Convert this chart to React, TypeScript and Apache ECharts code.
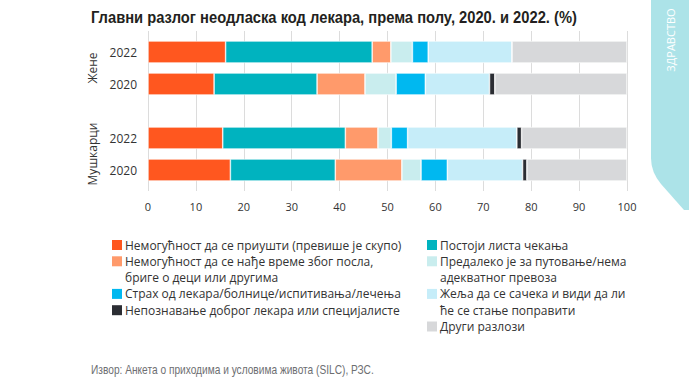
import React, { useEffect, useRef } from "react";
import * as echarts from "echarts";

// ---- data ----
const years = ["2022", "2020"];
const groups = ["Жене", "Мушкарци"];
const xTicksMin = 0;
const xTicksMax = 100;
const xTicksStep = 10;

const seriesNames = [
  "Немогућност да се приушти (превише је скупо)",
  "Постоји листа чекања",
  "Немогућност да се нађе време због посла, бриге о деци или другима",
  "Предалеко је за путовање/нема адекватног превоза",
  "Страх од лекара/болнице/испитивања/лечења",
  "Жеља да се сачека и види да ли ће се стање поправити",
  "Непознавање доброг лекара или специјалисте",
  "Други разлози",
];
const legendLabels = [
  ["Немогућност да се приушти (превише је скупо)"],
  ["Постоји листа чекања"],
  ["Немогућност да се нађе време због посла,", "бриге о деци или другима"],
  ["Предалеко је за путовање/нема", "адекватног превоза"],
  ["Страх од лекара/болнице/испитивања/лечења"],
  ["Жеља да се сачека и види да ли", "ће се стање поправити"],
  ["Непознавање доброг лекара или специјалисте"],
  ["Други разлози"],
];
const colors = ["#FF571F", "#00B3BF", "#FF9A6B", "#C9EDEE", "#00B8F0", "#C6EDF9", "#2B2D33", "#D7D8DA"];

// values: [Жене 2022, Жене 2020, Мушкарци 2022, Мушкарци 2020]
const afford = [16.2, 13.8, 15.6, 17.2];
const waitingList = [30.6, 21.5, 25.6, 21.9];
const noTime = [3.9, 10.0, 6.8, 13.9];
const tooFar = [4.5, 6.5, 2.8, 4.0];
const fear = [3.3, 6.1, 3.4, 5.5];
const waitAndSee = [17.5, 13.4, 22.8, 15.7];
const noDoctor = [0, 1.1, 1.0, 0.9];
const other = [24.0, 27.6, 22.0, 20.9];
const allValues = [afford, waitingList, noTime, tooFar, fear, waitAndSee, noDoctor, other];

const title = "Главни разлог неодласка код лекара, према полу, 2020. и 2022. (%)";
const source = "Извор: Анкета о приходима и условима живота (SILC), РЗС.";
const tabText = "ЗДРАВСТВО";

const TAB_PATH = "M0 0H38V210H33L10 184Q0 172 0 158Z";

export default function App() {
  const ref = useRef<HTMLDivElement>(null);
  useEffect(() => {
    if (!ref.current) return;
    try {
      echarts.graphic.registerShape("tab", echarts.graphic.extendPath(TAB_PATH, {}));
    } catch (e) {}
    const chart = echarts.init(ref.current, null, { renderer: "svg" });

    const gridLeft = 148;
    const gridRight = 62;
    const grids: any[] = [
      { left: gridLeft, right: gridRight, top: 31, bottom: 196 },
      { left: gridLeft, right: gridRight, top: 36, height: 64 },
      { left: gridLeft, right: gridRight, top: 122, height: 64 },
    ];
    const xAxes: any[] = [
      {
        type: "value",
        gridIndex: 0,
        min: xTicksMin,
        max: xTicksMax,
        interval: xTicksStep,
        axisLine: { show: false },
        axisTick: { show: false },
        splitLine: { show: true, lineStyle: { color: "#DCDCDC", width: 1 } },
        axisLabel: { color: "#333", fontSize: 11, fontFamily: "Open Sans", margin: 10 },
      },
      { type: "value", gridIndex: 1, min: xTicksMin, max: xTicksMax, show: false },
      { type: "value", gridIndex: 2, min: xTicksMin, max: xTicksMax, show: false },
    ];
    const yAxes: any[] = [
      { type: "category", gridIndex: 0, data: [""], show: false },
      ...groups.map((g, i) => ({
        type: "category",
        gridIndex: i + 1,
        data: years,
        inverse: true,
        name: g,
        nameLocation: "middle",
        nameRotate: 90,
        nameGap: 48,
        nameTextStyle: { color: "#333", fontSize: 12, fontFamily: "Open Sans" },
        axisLine: { show: false },
        axisTick: { show: false },
        axisLabel: { color: "#333", fontSize: 12, fontFamily: "Open Sans", margin: 11 },
      })),
    ];

    const series: any[] = [];
    groups.forEach((g, gi) => {
      seriesNames.forEach((name, si) => {
        series.push({
          type: "bar",
          name,
          xAxisIndex: gi + 1,
          yAxisIndex: gi + 1,
          stack: "g" + gi,
          barWidth: 22,
          itemStyle: { color: colors[si], borderColor: "#fff", borderWidth: 0.6 },
          data: allValues[si].slice(gi * 2, gi * 2 + 2),
        });
      });
    });

    // legend drawn as graphic elements (two columns)
    const legendEls: any[] = [];
    const lineH = 16.3;
    const colX = [112, 427];
    const colY = [245, 245];
    legendLabels.forEach((lines, i) => {
      const col = i % 2;
      const y = colY[col];
      legendEls.push({
        type: "rect",
        shape: { x: colX[col], y: y - 5, width: 10, height: 10 },
        style: { fill: colors[i] },
      });
      lines.forEach((ln, li) => {
        legendEls.push({
          type: "text",
          x: colX[col] + 13,
          y: y + li * lineH,
          style: {
            text: ln,
            fill: "#333",
            fontSize: 12,
            fontFamily: "Open Sans",
            textAlign: "left",
            verticalAlign: "middle",
          },
        });
      });
      colY[col] += lines.length * lineH;
    });

    chart.setOption({
      animation: false,
      backgroundColor: "#fff",
      grid: grids,
      xAxis: xAxes,
      yAxis: yAxes,
      series,
      graphic: [
        {
          type: "tab",
          x: 651,
          y: 0,
          style: { fill: "#ACE3E8" },
        },
        {
          type: "text",
          x: 670,
          y: 40,
          rotation: Math.PI / 2,
          style: {
            text: tabText,
            fill: "#fff",
            fontSize: 11,
            fontFamily: "Open Sans",
            textAlign: "center",
            verticalAlign: "middle",
          },
        },
        {
          type: "text",
          x: 91,
          y: 17,
          scaleX: 0.893,
          style: {
            text: title,
            fill: "#231F20",
            fontSize: 16.5,
            fontWeight: "bold",
            fontFamily: "Liberation Sans",
            textAlign: "left",
            verticalAlign: "middle",
          },
        },
        {
          type: "text",
          x: 91,
          y: 370,
          scaleX: 0.847,
          style: {
            text: source,
            fill: "#6D6E71",
            fontSize: 12,
            fontFamily: "Liberation Sans",
            textAlign: "left",
            verticalAlign: "middle",
          },
        },
        ...legendEls,
      ],
    });
    return () => chart.dispose();
  }, []);
  return (
    <div
      ref={ref}
      style={{ position: "fixed", left: 0, top: 0, width: 689, height: 387, background: "#fff" }}
    />
  );
}
